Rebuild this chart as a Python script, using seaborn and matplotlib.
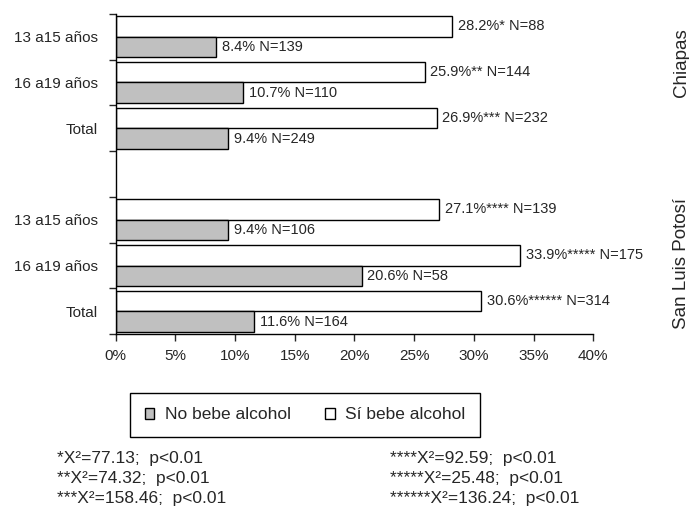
import matplotlib
matplotlib.use("Agg")
import matplotlib.pyplot as plt
from matplotlib.patches import Patch
import seaborn as sns
import pandas as pd

### data
estados = ["Chiapas", "San Luis Potosí"]
grupos = ["13 a15 años", "16 a19 años", "Total"]
no_bebe = [8.4, 10.7, 9.4, 9.4, 20.6, 11.6]
si_bebe = [28.2, 25.9, 26.9, 27.1, 33.9, 30.6]
n_no = [139, 110, 249, 106, 58, 164]
n_si = [88, 144, 232, 139, 175, 314]
estrellas = ["*", "**", "***", "****", "*****", "******"]
notas_izq = ["*X²=77.13;  p<0.01", "**X²=74.32;  p<0.01", "***X²=158.46;  p<0.01"]
notas_der = ["****X²=92.59;  p<0.01", "*****X²=25.48;  p<0.01", "******X²=136.24;  p<0.01"]
xticks = [0, 5, 10, 15, 20, 25, 30, 35, 40]
###

claves = [e + "|" + g for e in estados for g in grupos]
orden = claves[:3] + ["vacio"] + claves[3:]
df = pd.DataFrame({
    "clave": claves * 2,
    "pct": si_bebe + no_bebe,
    "serie": ["Sí bebe alcohol"] * 6 + ["No bebe alcohol"] * 6,
})

sns.set_style("white")
plt.rcParams["font.family"] = ["Liberation Sans", "DejaVu Sans"]

fig = plt.figure(figsize=(6.89, 5.11), dpi=100)
ax = fig.add_axes([0.168, 0.346, 0.693, 0.627])

colores = {"Sí bebe alcohol": "white", "No bebe alcohol": "#c0c0c0"}
sns.barplot(data=df, x="pct", y="clave", hue="serie", order=orden,
            hue_order=["Sí bebe alcohol", "No bebe alcohol"], palette=colores,
            orient="h", width=0.9, gap=0, edgecolor="black", linewidth=1,
            errorbar=None, legend=False, ax=ax)

# etiquetas de las barras
for cont, vals, ns, stars in [(ax.containers[0], si_bebe, n_si, estrellas),
                              (ax.containers[1], no_bebe, n_no, [""] * 6)]:
    textos = [f"{v}%{s} N={n}" for v, s, n in zip(vals, stars, ns)]
    ax.bar_label(cont, labels=textos, padding=4, fontsize=10.5)

ax.set_xlim(0, 40)
ax.set_xticks(xticks)
ax.set_xticklabels([f"{t}%" for t in xticks], fontsize=11)
ax.set_ylim(6.5, -0.5)
ax.set_yticks(range(7))
ax.set_yticklabels(grupos + [""] + grupos, fontsize=11)
ax.set_yticks([i - 0.5 for i in range(8)], minor=True)
ax.tick_params(axis="y", which="major", length=0, pad=13)
ax.tick_params(axis="y", which="minor", length=5, width=1, direction="out", left=True)
ax.tick_params(axis="x", length=5, width=1, direction="out", bottom=True, pad=6)
ax.set_xlabel("")
ax.set_ylabel("")
sns.despine(ax=ax)
for s in ["left", "bottom"]:
    ax.spines[s].set_color("black")
    ax.spines[s].set_linewidth(1)

ax.text(1.184, 0.847, "Chiapas", rotation=90, transform=ax.transAxes,
        ha="center", va="center", fontsize=13.5)
ax.text(1.184, 0.222, "San Luis Potosí", rotation=90, transform=ax.transAxes,
        ha="center", va="center", fontsize=13.5)

handles = [Patch(facecolor="#c0c0c0", edgecolor="black", label="No bebe alcohol"),
           Patch(facecolor="white", edgecolor="black", label="Sí bebe alcohol")]
leg = fig.legend(handles=handles, loc="center", bbox_to_anchor=(0.443, 0.188), ncol=2,
                 fontsize=12.5, handlelength=0.55, handleheight=0.55, handletextpad=0.6,
                 columnspacing=2.0, borderpad=0.85, fancybox=False, framealpha=1)
leg.get_frame().set_edgecolor("black")
leg.get_frame().set_linewidth(1)

for i, (a, b) in enumerate(zip(notas_izq, notas_der)):
    y = 1 - (458 + i * 20) / 511
    fig.text(57 / 689, y, a, fontsize=12.5, va="center")
    fig.text(390 / 689, y, b, fontsize=12.5, va="center")

fig.savefig("out.png", dpi=100)
